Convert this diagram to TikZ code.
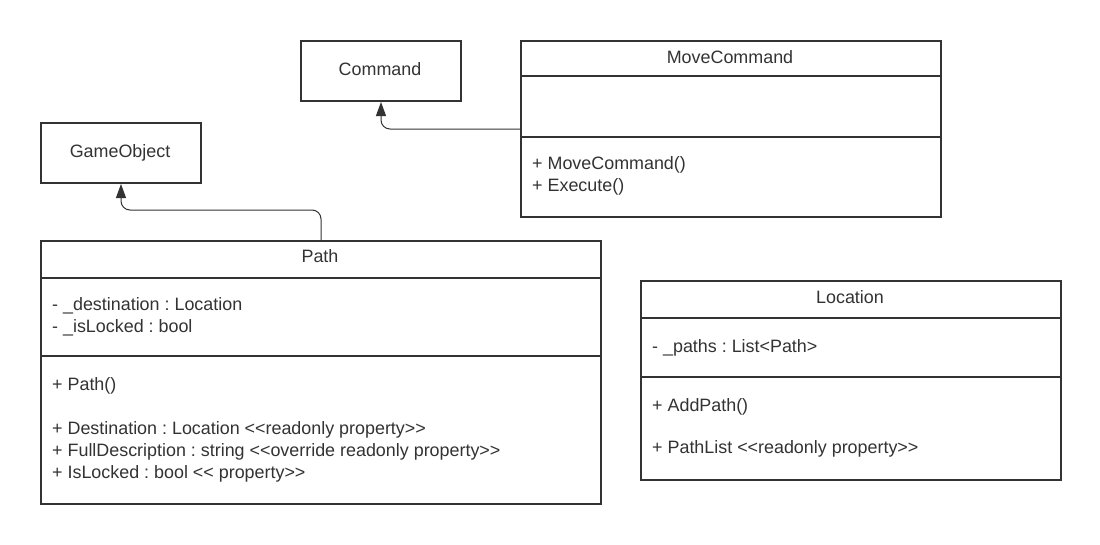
\documentclass[tikz,border=0pt]{standalone}
\usepackage{fontspec}
\setmainfont{Liberation Sans}
\frenchspacing
\usetikzlibrary{arrows.meta}
\definecolor{ink}{HTML}{333333}
\tikzset{
  box/.style={draw=ink, line width=2pt, rectangle, anchor=north west, inner sep=0pt},
  divider/.style={draw=ink, line width=2pt},
  txt/.style={anchor=base west, inner sep=0pt, text=ink, font=\fontsize{17.9}{21}\selectfont},
  ttl/.style={anchor=base, inner sep=0pt, text=ink, font=\fontsize{17.9}{21}\selectfont},
  conn/.style={draw=ink, line width=1pt, rounded corners=9pt, -{Triangle[width=10pt,length=14pt]}}
}
\begin{document}
\begin{tikzpicture}[x=1pt,y=-1pt]
\useasboundingbox[fill=white] (0,0) rectangle (1100,544);
% Command
\node[box, minimum width=160pt, minimum height=60pt] (command) at (300,40) {};
\node[ttl] (commandT) at (380,75) {Command};
% GameObject
\node[box, minimum width=160pt, minimum height=60pt] (gameobject) at (40,122) {};
\node[ttl] (gameobjectT) at (120,157) {GameObject};
% MoveCommand
\node[box, minimum width=420pt, minimum height=176pt] (move) at (520,40) {};
\draw[divider] (520,76) -- (940,76);
\draw[divider] (520,137) -- (940,137);
\node[ttl] (moveT) at (730,63) {MoveCommand};
\node[txt] (moveM1) at (532,169) {+ MoveCommand()};
\node[txt] (moveM2) at (532,191) {+ Execute()};
% Path
\node[box, minimum width=560pt, minimum height=263pt] (path) at (40,240) {};
\draw[divider] (40,278) -- (600,278);
\draw[divider] (40,356) -- (600,356);
\node[ttl] (pathT) at (320,262) {Path};
\node[txt] (pathA1) at (52,310) {- \_destination : Location};
\node[txt] (pathA2) at (52,332) {- \_isLocked : bool};
\node[txt] (pathM1) at (52,390) {+ Path()};
\node[txt] (pathM2) at (52,434) {+ Destination : Location <{}<readonly property>{}>};
\node[txt] (pathM3) at (52,456) {+ FullDescription : string <{}<override readonly property>{}>};
\node[txt] (pathM4) at (52,478) {+ IsLocked : bool <{}< property>{}>};
% Location
\node[box, minimum width=420pt, minimum height=199pt] (location) at (640,280) {};
\draw[divider] (640,318) -- (1060,318);
\draw[divider] (640,377) -- (1060,377);
\node[ttl] (locationT) at (850,303) {Location};
\node[txt] (locA1) at (652,352) {- \_paths : List<Path>};
\node[txt] (locM1) at (652,411) {+ AddPath()};
\node[txt] (locM2) at (652,453) {+ PathList <{}<readonly property>{}>};
% connectors
\draw[conn] (move.west) -| (command.south);
\draw[conn] (path.north) -- ++(0,-30) -| (gameobject.south);
\end{tikzpicture}
\end{document}
